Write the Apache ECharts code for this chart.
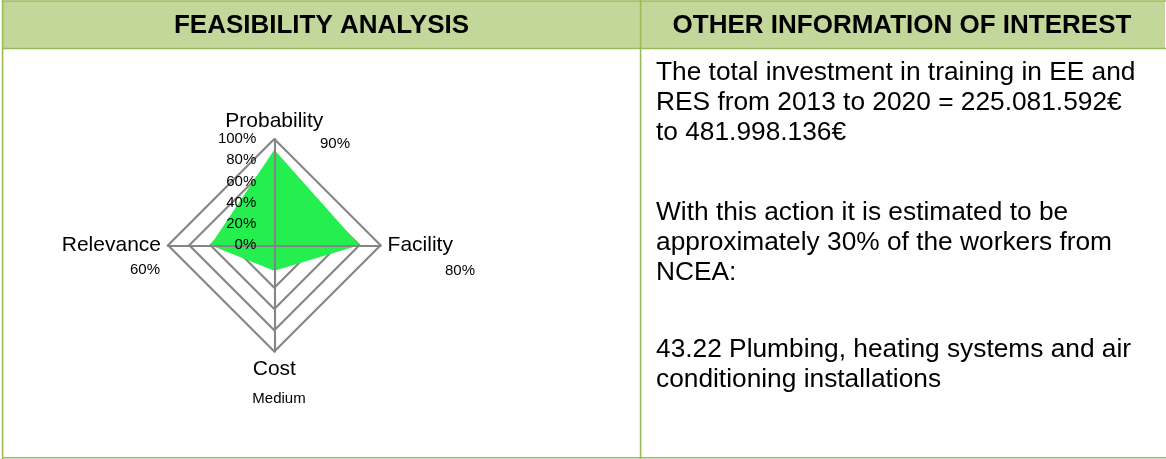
<!DOCTYPE html>
<html>
<head>
<meta charset="utf-8">
<script src="https://cdn.jsdelivr.net/npm/echarts@6/dist/echarts.min.js"></script>
<style>
  html, body { margin: 0; padding: 0; background: #ffffff; }
  #chart { width: 1166px; height: 459px; }
</style>
</head>
<body>
<div id="chart"></div>
<script>
// Feasibility criteria, listed counter-clockwise from the top axis
const indicators = ['Probability', 'Relevance', 'Cost', 'Facility'];
// Scores in percent
const scores = [90, 60, 24, 80];
// Cost is rated qualitatively rather than as a percentage
const costRating = 'Medium';
// Ring ticks on the scale
const tickMax = 100;
const tickStep = 20;

const headers = ['FEASIBILITY ANALYSIS', 'OTHER INFORMATION OF INTEREST'];
const infoLines = [
  'The total investment in training in EE and',
  'RES from 2013 to 2020 = 225.081.592\u20ac',
  'to 481.998.136\u20ac',
  'With this action it is estimated to be',
  'approximately 30% of the workers from',
  'NCEA:',
  '43.22 Plumbing, heating systems and air',
  'conditioning installations'
];

const FONT = '"Liberation Sans", Arial, sans-serif';
const BORDER = '#9bbb59';
const HEADER_FILL = '#c4d79b';
const GRID = '#858585';
const AREA = '#24ef4e';

const scoreText = scores.map((v, i) => indicators[i] === 'Cost' ? costRating : v + '%');

// Where each score caption sits next to its axis name
const captionPos = {
  Probability: [335, 144, 15],
  Relevance: [145, 270, 15],
  Cost: [279, 399, 15],
  Facility: [460, 270.5, 15]
};

// Vertical text positions for the info lines (middle of cap height)
const infoY = [73, 103, 133, 212.5, 242.5, 272.5, 350, 380];

const graphics = [];
// header band
graphics.push({ type: 'rect', silent: true, z: 0,
  shape: { x: 3, y: 1, width: 1162, height: 47.5 },
  style: { fill: HEADER_FILL } });
// table rules
const rules = [
  [2, 1, 1166, 1], [2, 48.5, 1166, 48.5], [2, 457.8, 1166, 457.8],
  [2.6, 0, 2.6, 459], [640.6, 0, 640.6, 459]
];
rules.forEach(r => graphics.push({ type: 'line', silent: true, z: 1,
  shape: { x1: r[0], y1: r[1], x2: r[2], y2: r[3] },
  style: { stroke: BORDER, lineWidth: 1.6 } }));
// headers
[321.5, 902].forEach((cx, i) => graphics.push({ type: 'text', silent: true, z: 2,
  x: cx, y: 25.5,
  style: { text: headers[i], font: 'bold 26px ' + FONT, fill: '#000000',
           align: 'center', verticalAlign: 'middle' } }));
// info text
infoLines.forEach((t, i) => graphics.push({ type: 'text', silent: true, z: 2,
  x: 656, y: infoY[i],
  style: { text: t, font: '26.3px ' + FONT, fill: '#000000',
           align: 'left', verticalAlign: 'middle' } }));
// score captions
indicators.forEach((name, i) => {
  const p = captionPos[name];
  graphics.push({ type: 'text', silent: true, z: 10,
    x: p[0], y: p[1],
    style: { text: scoreText[i], font: p[2] + 'px ' + FONT, fill: '#000000',
             align: 'center', verticalAlign: 'middle' } });
});

const radarBase = {
  center: [274.3, 245.3],
  radius: 106.3,
  startAngle: 90,
  shape: 'polygon',
  splitNumber: tickMax / tickStep,
  splitArea: { show: false },
  axisTick: { show: false }
};

const option = {
  animation: false,
  backgroundColor: '#ffffff',
  graphic: graphics,
  radar: [
    Object.assign({}, radarBase, {
      z: 1,
      indicator: indicators.map(n => ({ name: n, min: 0, max: tickMax })),
      nameGap: 7,
      axisName: { color: '#000000', fontSize: 21, fontFamily: FONT },
      axisLine: { show: false },
      axisLabel: { show: false },
      splitLine: { show: true, lineStyle: { color: GRID, width: 2.1 } }
    }),
    Object.assign({}, radarBase, {
      z: 3,
      indicator: indicators.map((n, i) => i === 0
        ? { name: n, min: 0, max: tickMax }
        : { name: n, min: 0, max: tickMax, axisLabel: { show: false } }),
      axisName: { show: false },
      axisLine: { show: true, lineStyle: { color: GRID, width: 2.1 } },
      splitLine: { show: false },
      axisLabel: { show: true, margin: 18, color: '#000000', fontSize: 15,
                   fontFamily: FONT, formatter: v => v + '%' }
    })
  ],
  series: [{
    type: 'radar',
    radarIndex: 0,
    z: 2,
    symbol: 'none',
    silent: true,
    lineStyle: { width: 0 },
    areaStyle: { color: AREA, opacity: 1 },
    data: [{ value: scores, name: 'Feasibility' }]
  }]
};

const chart = echarts.init(document.getElementById('chart'), null, { renderer: 'canvas' });
chart.setOption(option);
</script>
</body>
</html>
